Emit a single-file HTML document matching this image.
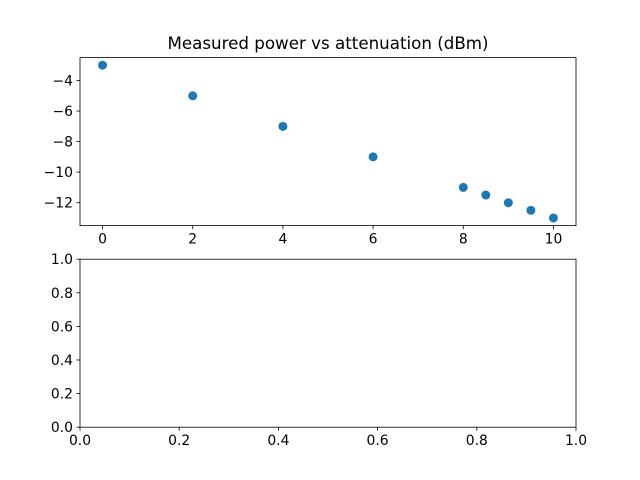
<!DOCTYPE html>
<html><head><meta charset="utf-8"><style>
html,body{margin:0;padding:0;background:#fff;}
svg{display:block;font-family:"DejaVu Sans","Liberation Sans",sans-serif;}
</style></head><body>
<svg id="fig" width="640" height="480" viewBox="0 0 640 480" xmlns="http://www.w3.org/2000/svg"></svg>
<script>
const xValues = [0, 2, 4, 6, 8, 8.5, 9, 9.5, 10];
const yValues = [-3, -5, -7, -9, -11, -11.5, -12, -12.5, -13];
const topXTicks = [0, 2, 4, 6, 8, 10];
const topYTicks = [-4, -6, -8, -10, -12];
const bottomTicks = [0.0, 0.2, 0.4, 0.6, 0.8, 1.0];
const titleText = "Measured power vs attenuation (dBm)";

const NS = "http://www.w3.org/2000/svg";
const svg = document.getElementById('fig');
function mk(tag, attrs, parent) {
  const e = document.createElementNS(NS, tag);
  for (const k in attrs) e.setAttribute(k, attrs[k]);
  (parent || svg).appendChild(e);
  return e;
}
function fmt(v, d) { const s = v.toFixed(d); return s.replace('-', '\u2212'); }

const L = 80, R = 576;
function drawAxes(top, bottom, xmin, xmax, ymin, ymax, xt, yt, xd, yd, name) {
  const g = mk('g', {});
  
  
  const sx = v => L + (v - xmin) / (xmax - xmin) * (R - L);
  const sy = v => bottom - (v - ymin) / (ymax - ymin) * (bottom - top);
  xt.forEach(t => {
    const x = sx(t);
    mk('line', {x1: x, x2: x, y1: bottom, y2: bottom + 3.5, stroke: '#000', 'stroke-width': 0.8}, g);
    const tx = mk('text', {x: x, y: bottom + 18, 'font-size': 13.9, 'text-anchor': 'middle', fill: '#000'}, g);
    tx.textContent = fmt(t, xd);
    
    
  });
  yt.forEach(t => {
    const y = sy(t);
    mk('line', {x1: L - 3.5, x2: L, y1: y, y2: y, stroke: '#000', 'stroke-width': 0.8}, g);
    const tx = mk('text', {x: L - 7, y: y + 5, 'font-size': 13.9, 'text-anchor': 'end', fill: '#000'}, g);
    tx.textContent = fmt(t, yd);
    
    
  });
  const f = mk('rect', {x: L, y: top, width: R - L, height: bottom - top, fill: 'none', stroke: '#000', 'stroke-width': 0.8}, g);
  
  
  return {sx, sy, g};
}

const topAx = drawAxes(57.6, 225.6, -0.5, 10.5, -13.5, -2.5, topXTicks, topYTicks, 0, 0, 'top-axes');
xValues.forEach((xv, i) => {
  const c = mk('circle', {cx: topAx.sx(xv), cy: topAx.sy(yValues[i]), r: 4.5, fill: '#1f77b4'}, topAx.g);
  
  
});
const title = mk('text', {x: 328, y: 49, 'font-size': 16.7, 'text-anchor': 'middle', fill: '#000'});
title.textContent = titleText;



drawAxes(259.2, 427.2, 0, 1, 0, 1, bottomTicks, bottomTicks, 1, 1, 'bottom-axes');
</script>
</body></html>
